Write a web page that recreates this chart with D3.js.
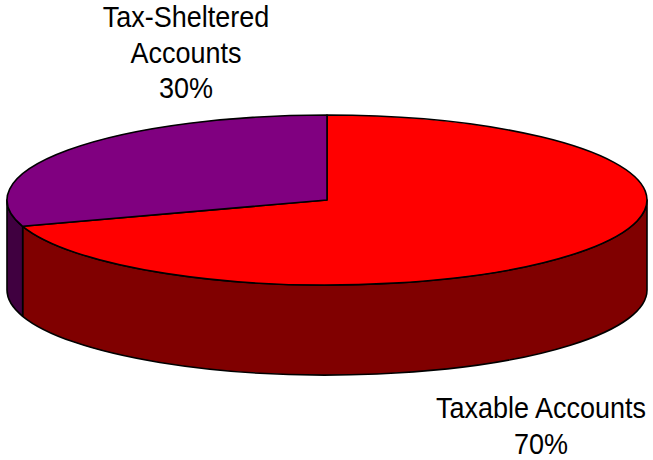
<!DOCTYPE html>
<html>
<head>
<meta charset="utf-8">
<script src="https://cdn.jsdelivr.net/npm/d3@7/dist/d3.min.js"></script>
<style>
  html, body { margin: 0; padding: 0; background: #fff; }
  svg { display: block; }
  text { font-family: "Liberation Sans", Arial, sans-serif; fill: #000; }
</style>
</head>
<body>
<svg id="chart" width="653" height="460"></svg>
<script>
// ---- data ----
const categories = ["Taxable Accounts", "Tax-Sheltered Accounts"];
const values = [70, 30];
const labelLines = [["Taxable Accounts", "70%"], ["Tax-Sheltered", "Accounts", "30%"]];
const topColors = ["#FF0000", "#800080"];
const sideColors = ["#800000", "#400040"];

// ---- layout ----
const W = 653, H = 460;
const cx = 327, cy = 200, rx = 320, ry = 85, depth = 90;
const svg = d3.select("#chart");

const pie = d3.pie().sort(null).value(d => d)
  .startAngle(0).endAngle(2 * Math.PI);
const arcs = pie(values).map((a, i) => ({ ...a, i }));

const pt = (a, dy = 0) => [cx + rx * Math.sin(a), cy - ry * Math.cos(a) + dy];
const f = p => p[0].toFixed(2) + "," + p[1].toFixed(2);

// side walls (front half: angles PI/2 .. 3PI/2)
const front0 = Math.PI / 2, front1 = 3 * Math.PI / 2;
const walls = [];
arcs.forEach(a => {
  const s = Math.max(a.startAngle, front0), e = Math.min(a.endAngle, front1);
  if (e > s) walls.push({ s, e, i: a.i });
});

const gWalls = svg.append("g");
gWalls.selectAll("path").data(walls).join("path")
  .attr("d", w => {
    const p0 = pt(w.s), p1 = pt(w.e), q1 = pt(w.e, depth), q0 = pt(w.s, depth);
    return `M${f(p0)} A${rx},${ry} 0 0 1 ${f(p1)} L${f(q1)} A${rx},${ry} 0 0 0 ${f(q0)} Z`;
  })
  .attr("fill", w => sideColors[w.i])
  .attr("stroke", "#000")
  .attr("stroke-width", 1.6)
  .attr("stroke-linejoin", "round");

// top faces
const gTop = svg.append("g");
gTop.selectAll("path").data(arcs).join("path")
  .attr("d", a => {
    const p0 = pt(a.startAngle), p1 = pt(a.endAngle);
    const large = (a.endAngle - a.startAngle) > Math.PI ? 1 : 0;
    return `M${cx},${cy} L${f(p0)} A${rx},${ry} 0 ${large} 1 ${f(p1)} Z`;
  })
  .attr("fill", a => topColors[a.i])
  .attr("stroke", "#000")
  .attr("stroke-width", 1.6)
  .attr("stroke-linejoin", "round");

// labels
const labelPos = [[541, 418], [186, 27]];
const lineH = 35.5;
const gLab = svg.append("g");
arcs.forEach(a => {
  const [lx, ly] = labelPos[a.i];
  labelLines[a.i].forEach((ln, k) => {
    gLab.append("text")
      .attr("text-anchor", "middle")
      .attr("font-size", 27)
      .attr("transform", `translate(${lx},${ly + k * lineH}) scale(1,1.1)`)
      .text(ln);
  });
});
</script>
</body>
</html>
